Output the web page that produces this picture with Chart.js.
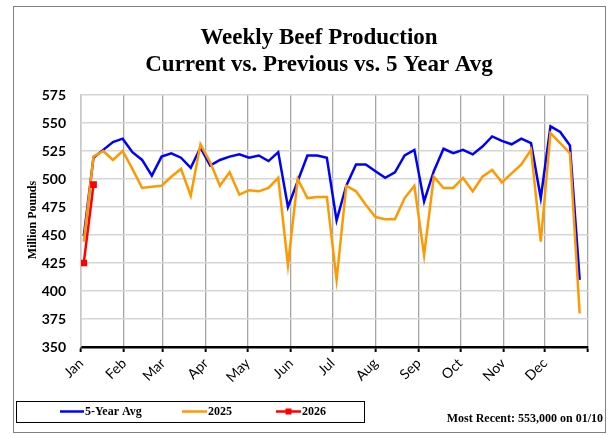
<!DOCTYPE html>
<html>
<head>
<meta charset="utf-8">
<script src="https://cdn.jsdelivr.net/npm/chart.js@4/dist/chart.umd.min.js"></script>
<style>
html,body{margin:0;padding:0;background:#fff;}
#wrap{width:612px;height:435px;position:relative;}
</style>
</head>
<body>
<div id="wrap"><canvas id="c" width="612" height="435"></canvas></div>
<script>
// ---- data ----
const monthLabels = ['Jan','Feb','Mar','Apr','May','Jun','Jul','Aug','Sep','Oct','Nov','Dec',''];
const monthStartDays = [0,31,59,90,120,151,181,212,243,273,304,334,365];
const firstWeekDay = 2;   // first week ending (Jan 3), day of year from Jan 1 = 0
const daysPerWeek = 7;

const fiveYearAvg = [449,519,526,533,536,524,517,503,520,523,519,510,528,512,517,520,522,519,521,516,
  524,475,498,521,521,519,463,494,513,513,507,501,506,521,526,480,507,527,523,526,
  522,529,538,534,531,536,532,483,547,542,530,410];
const prod2025 = [444,520,525,517,525,509,492,493,494,502,509,485,531,515,494,506,486,490,489,492,
  501,423,500,483,484,484,410,494,489,477,466,464,464,483,494,432,502,492,492,501,
  489,502,508,497,505,513,526,444,541,532,523,380];
const prod2026 = [425,495];

const seriesNames = ['5-Year Avg','2025','2026'];
const seriesColors = ['#0000FF','#FF9900','#FF0000'];
const titleLines = ['Weekly Beef Production','Current vs. Previous vs. 5 Year Avg'];
const yAxisTitle = 'Million Pounds';
const footNote = 'Most Recent: 553,000 on 01/10';
const yMin = 350, yMax = 575, yStep = 25;

const toPoints = arr => arr.map((v,i) => ({x: firstWeekDay + i*daysPerWeek, y: v}));

const SERIF = '"Liberation Serif", "DejaVu Serif", serif';
const SANS = 'Lato, "Open Sans", sans-serif';

const decorPlugin = {
  id: 'decor',
  beforeDraw(chart){
    const ctx = chart.ctx;
    ctx.save();
    ctx.fillStyle = '#fff';
    ctx.fillRect(0,0,chart.width,chart.height);
    ctx.strokeStyle = '#808080';
    ctx.lineWidth = 1;
    ctx.strokeRect(13.5, 6.5, 592, 426);
    ctx.restore();
  },
  afterDraw(chart){
    const ctx = chart.ctx;
    ctx.save();
    // title
    ctx.fillStyle = '#000';
    ctx.textAlign = 'center';
    ctx.textBaseline = 'alphabetic';
    ctx.font = 'bold 23px ' + SERIF;
    ctx.fillText(titleLines[0], 319, 44);
    ctx.fillText(titleLines[1], 319, 71);
    // y axis title
    ctx.save();
    ctx.translate(33, 220);
    ctx.rotate(-Math.PI/2);
    ctx.font = 'bold 12px ' + SERIF;
    ctx.textAlign = 'center';
    ctx.textBaseline = 'middle';
    ctx.fillText(yAxisTitle, 0, 0);
    ctx.restore();
    // legend box
    ctx.strokeStyle = '#000';
    ctx.lineWidth = 1;
    ctx.strokeRect(16.5, 401.5, 348, 21);
    const items = [
      {x1:60, x2:84, tx:85},
      {x1:182, x2:207, tx:208},
      {x1:276, x2:301, tx:302}
    ];
    ctx.font = 'bold 12px ' + SERIF;
    ctx.textAlign = 'left';
    ctx.textBaseline = 'middle';
    items.forEach((it, k) => {
      const ds = chart.data.datasets[k];
      ctx.strokeStyle = ds.borderColor;
      ctx.lineWidth = 2.5;
      ctx.beginPath();
      ctx.moveTo(it.x1, 411.5);
      ctx.lineTo(it.x2, 411.5);
      ctx.stroke();
      if (k === 2) {
        ctx.fillStyle = ds.backgroundColor;
        ctx.fillRect((it.x1+it.x2)/2 - 3, 411.5 - 3, 6, 6);
      }
      ctx.fillStyle = '#000';
      ctx.fillText(ds.label, it.tx, 412);
    });
    // footnote
    ctx.textAlign = 'right';
    ctx.font = 'bold 12px ' + SERIF;
    ctx.fillText(footNote, 603, 419);
    ctx.restore();
  }
};

new Chart(document.getElementById('c'), {
  type: 'line',
  data: {
    datasets: [
      {label: seriesNames[0], data: toPoints(fiveYearAvg), borderColor: seriesColors[0], backgroundColor: seriesColors[0],
       borderWidth: 2.5, pointRadius: 0, tension: 0, order: 3},
      {label: seriesNames[1], data: toPoints(prod2025), borderColor: seriesColors[1], backgroundColor: seriesColors[1],
       borderWidth: 2.5, pointRadius: 0, tension: 0, order: 2},
      {label: seriesNames[2], data: toPoints(prod2026), borderColor: seriesColors[2], backgroundColor: seriesColors[2],
       borderWidth: 2.5, pointRadius: 3, pointStyle: 'rect', tension: 0, order: 1}
    ]
  },
  options: {
    responsive: false,
    animation: false,
    devicePixelRatio: 1,
    layout: {padding: {left: 0, right: 24, top: 95, bottom: 0}},
    plugins: {legend: {display: false}, title: {display: false}, tooltip: {enabled: false}},
    scales: {
      x: {
        type: 'linear',
        min: 0, max: 365,
        afterBuildTicks: (scale) => { scale.ticks = monthStartDays.map(v => ({value: v})); },
        afterFit: (scale) => { scale.height = 88; },
        ticks: {
          autoSkip: false, maxRotation: 45, minRotation: 45,
          color: '#000', padding: 3,
          font: {family: SANS, size: 14},
          callback: (v, i) => monthLabels[i] ?? ''
        },
        grid: {color: '#a6a6a6', lineWidth: 1.3, drawTicks: true, tickLength: 5, tickColor: '#000', tickWidth: 2},
        border: {color: '#000', width: 2.5}
      },
      y: {
        min: yMin, max: yMax,
        afterFit: (scale) => { scale.width = 81; },
        ticks: {stepSize: yStep, color: '#000', padding: 15, font: {family: SANS, size: 14, weight: 'bold'}},
        grid: {color: '#d6d6d6', lineWidth: 1.5, drawTicks: false},
        border: {color: '#c8c8c8', width: 1.5}
      }
    }
  },
  plugins: [decorPlugin]
});
</script>
</body>
</html>
